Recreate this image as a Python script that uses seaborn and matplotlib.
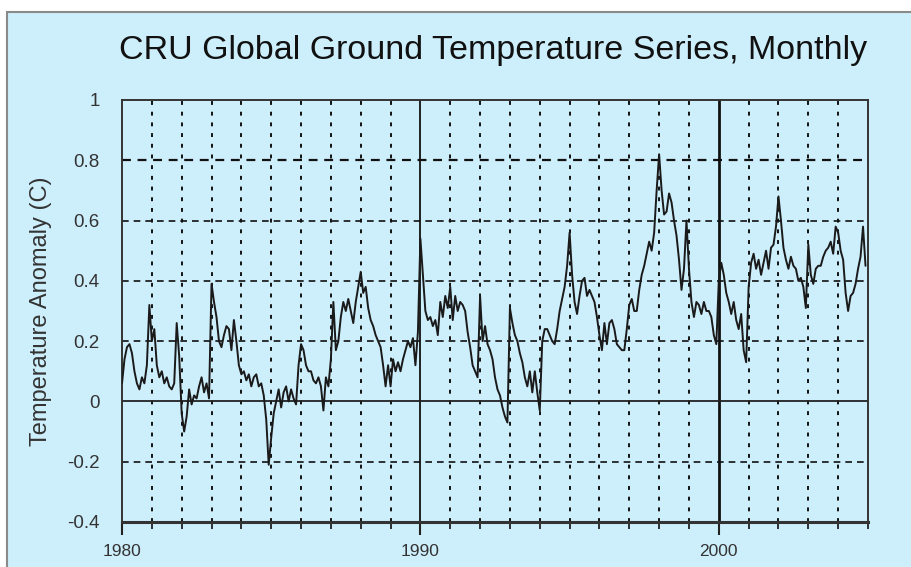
import numpy as np
import pandas as pd
import matplotlib.pyplot as plt
import matplotlib.patches as mpatches
import seaborn as sns

# monthly CRU anomalies (C), Jan 1980 .. Dec 2004
start_year = 1980
anom_1980s = [
    0.06, 0.14, 0.18, 0.19, 0.16, 0.10, 0.06, 0.04, 0.08, 0.06, 0.12, 0.32,   # 1980
    0.20, 0.24, 0.12, 0.08, 0.10, 0.06, 0.08, 0.05, 0.04, 0.06, 0.26, 0.15,   # 1981
    -0.04, -0.10, -0.05, 0.04, -0.01, 0.02, 0.01, 0.05, 0.08, 0.03, 0.06, 0.01,  # 1982
    0.39, 0.33, 0.28, 0.20, 0.18, 0.22, 0.25, 0.24, 0.17, 0.27, 0.20, 0.12,   # 1983
    0.09, 0.10, 0.07, 0.09, 0.05, 0.08, 0.09, 0.05, 0.06, 0.02, -0.06, -0.21,  # 1984
    -0.12, -0.04, 0.00, 0.04, -0.02, 0.03, 0.05, 0.00, 0.04, 0.01, -0.01, 0.12,  # 1985
    0.19, 0.17, 0.12, 0.10, 0.10, 0.07, 0.06, 0.08, 0.05, -0.03, 0.08, 0.05,  # 1986
    0.14, 0.33, 0.17, 0.20, 0.28, 0.33, 0.30, 0.34, 0.30, 0.26, 0.33, 0.38,   # 1987
    0.43, 0.36, 0.38, 0.31, 0.27, 0.25, 0.22, 0.20, 0.18, 0.12, 0.05, 0.12,   # 1988
    0.05, 0.14, 0.10, 0.13, 0.10, 0.14, 0.17, 0.20, 0.18, 0.21, 0.12, 0.23,   # 1989
]
anom_1990s = [
    0.54, 0.42, 0.30, 0.27, 0.28, 0.25, 0.27, 0.22, 0.33, 0.28, 0.35, 0.31,   # 1990
    0.38, 0.27, 0.35, 0.30, 0.33, 0.32, 0.30, 0.23, 0.18, 0.12, 0.10, 0.08,   # 1991
    0.35, 0.20, 0.25, 0.19, 0.17, 0.14, 0.08, 0.04, 0.02, -0.02, -0.05, -0.07,  # 1992
    0.31, 0.26, 0.22, 0.20, 0.16, 0.13, 0.08, 0.05, 0.10, 0.03, 0.10, 0.03,   # 1993
    -0.03, 0.20, 0.24, 0.24, 0.22, 0.20, 0.19, 0.24, 0.30, 0.34, 0.38, 0.45,  # 1994
    0.56, 0.42, 0.33, 0.29, 0.35, 0.40, 0.41, 0.35, 0.37, 0.35, 0.33, 0.28,   # 1995
    0.22, 0.17, 0.26, 0.19, 0.26, 0.27, 0.24, 0.19, 0.18, 0.17, 0.17, 0.24,   # 1996
    0.32, 0.34, 0.30, 0.30, 0.37, 0.42, 0.45, 0.49, 0.53, 0.50, 0.56, 0.70,   # 1997
    0.82, 0.70, 0.62, 0.63, 0.69, 0.66, 0.60, 0.55, 0.47, 0.37, 0.44, 0.60,   # 1998
    0.44, 0.33, 0.28, 0.33, 0.32, 0.29, 0.33, 0.30, 0.30, 0.28, 0.22, 0.19,   # 1999
]
anom_2000s = [
    0.40, 0.46, 0.42, 0.36, 0.33, 0.29, 0.33, 0.27, 0.24, 0.29, 0.17, 0.13,   # 2000
    0.38, 0.46, 0.49, 0.44, 0.47, 0.42, 0.46, 0.50, 0.44, 0.51, 0.52, 0.58,   # 2001
    0.68, 0.60, 0.51, 0.47, 0.44, 0.48, 0.45, 0.44, 0.40, 0.41, 0.38, 0.31,   # 2002
    0.52, 0.42, 0.39, 0.44, 0.45, 0.45, 0.48, 0.50, 0.51, 0.53, 0.49, 0.58,   # 2003
    0.56, 0.50, 0.47, 0.36, 0.30, 0.35, 0.36, 0.39, 0.44, 0.48, 0.58, 0.45,   # 2004
]
x_labels = ["1980", "1990", "2000"]
y_ticks = [-0.4, -0.2, 0, 0.2, 0.4, 0.6, 0.8, 1]
y_labels = ["-0.4", "-0.2", "0", "0.2", "0.4", "0.6", "0.8", "1"]

anom = anom_1980s + anom_1990s + anom_2000s
df = pd.DataFrame({"year": start_year + np.arange(len(anom)) / 12.0,
                   "anomaly": anom})

bg = "#cdeefb"
sns.set_theme(style="white")
plt.rcParams["font.family"] = ["Liberation Sans", "DejaVu Sans"]

fig = plt.figure(figsize=(9.11, 5.67), dpi=100, facecolor="white")
# light blue panel with grey frame, cut off at right/bottom like the original
panel = mpatches.Rectangle((7 / 911, -0.05), 1.1, 1 - 12 / 567 + 0.05,
                           transform=fig.transFigure, facecolor=bg,
                           edgecolor="#8a8a8a", linewidth=1.5, zorder=-10)
fig.patches.append(panel)
ax = fig.add_axes([122 / 911, 1 - 522 / 567, 746 / 911, 422 / 567])
ax.set_zorder(5)
ax.set_facecolor(bg)

sns.lineplot(data=df, x="year", y="anomaly", ax=ax, color="#1a1a1a", linewidth=1.4, zorder=3)

ax.set_xlim(1980, 2005)
ax.set_ylim(-0.4, 1.0)

# year grid: dotted-dash verticals, solid at decades
for yr in range(1981, 2005):
    if yr in (1990, 2000):
        ax.axvline(yr, color="#111111", linewidth=1.3 if yr == 1990 else 2.0, zorder=1)
    else:
        ax.axvline(yr, color="#111111", linewidth=1.4, linestyle=(0, (2, 3.5)), zorder=1)
for v in [-0.2, 0.2, 0.4, 0.6, 0.8]:
    ax.axhline(v, color="#111111", linewidth=1.6 if v == 0.8 else 1.2,
               linestyle=(0, (4, 3)), zorder=1)
ax.axhline(0, color="#222222", linewidth=1.3, zorder=1)

ax.set_xticks([1980, 1990, 2000])
ax.set_xticklabels(x_labels)
ax.set_xticks(range(1980, 2006), minor=True)
ax.tick_params(axis="x", which="major", direction="out", length=9, width=1.5,
               color="#222222", labelsize=12.5, pad=7, labelcolor="#333333", bottom=True)
ax.tick_params(axis="x", which="minor", direction="out", length=5, width=1.3,
               color="#222222", bottom=True)
ax.set_yticks(y_ticks)
ax.set_yticklabels(y_labels)
ax.tick_params(axis="y", length=0, labelsize=13.5, pad=16, labelcolor="#333333")

for side, sp in ax.spines.items():
    sp.set_visible(True)
    sp.set_color("#333333")
    sp.set_linewidth(2.2 if side == "bottom" else 1.4)

ax.set_xlabel("")
ax.set_ylabel("Temperature Anomaly (C)", fontsize=17, color="#333333", labelpad=11)
fig.text(0.541, 1 - 50 / 567, "CRU Global Ground Temperature Series, Monthly",
         ha="center", va="center", fontsize=24.5, color="#111111")

fig.savefig("out.png", dpi=100, facecolor="white")
